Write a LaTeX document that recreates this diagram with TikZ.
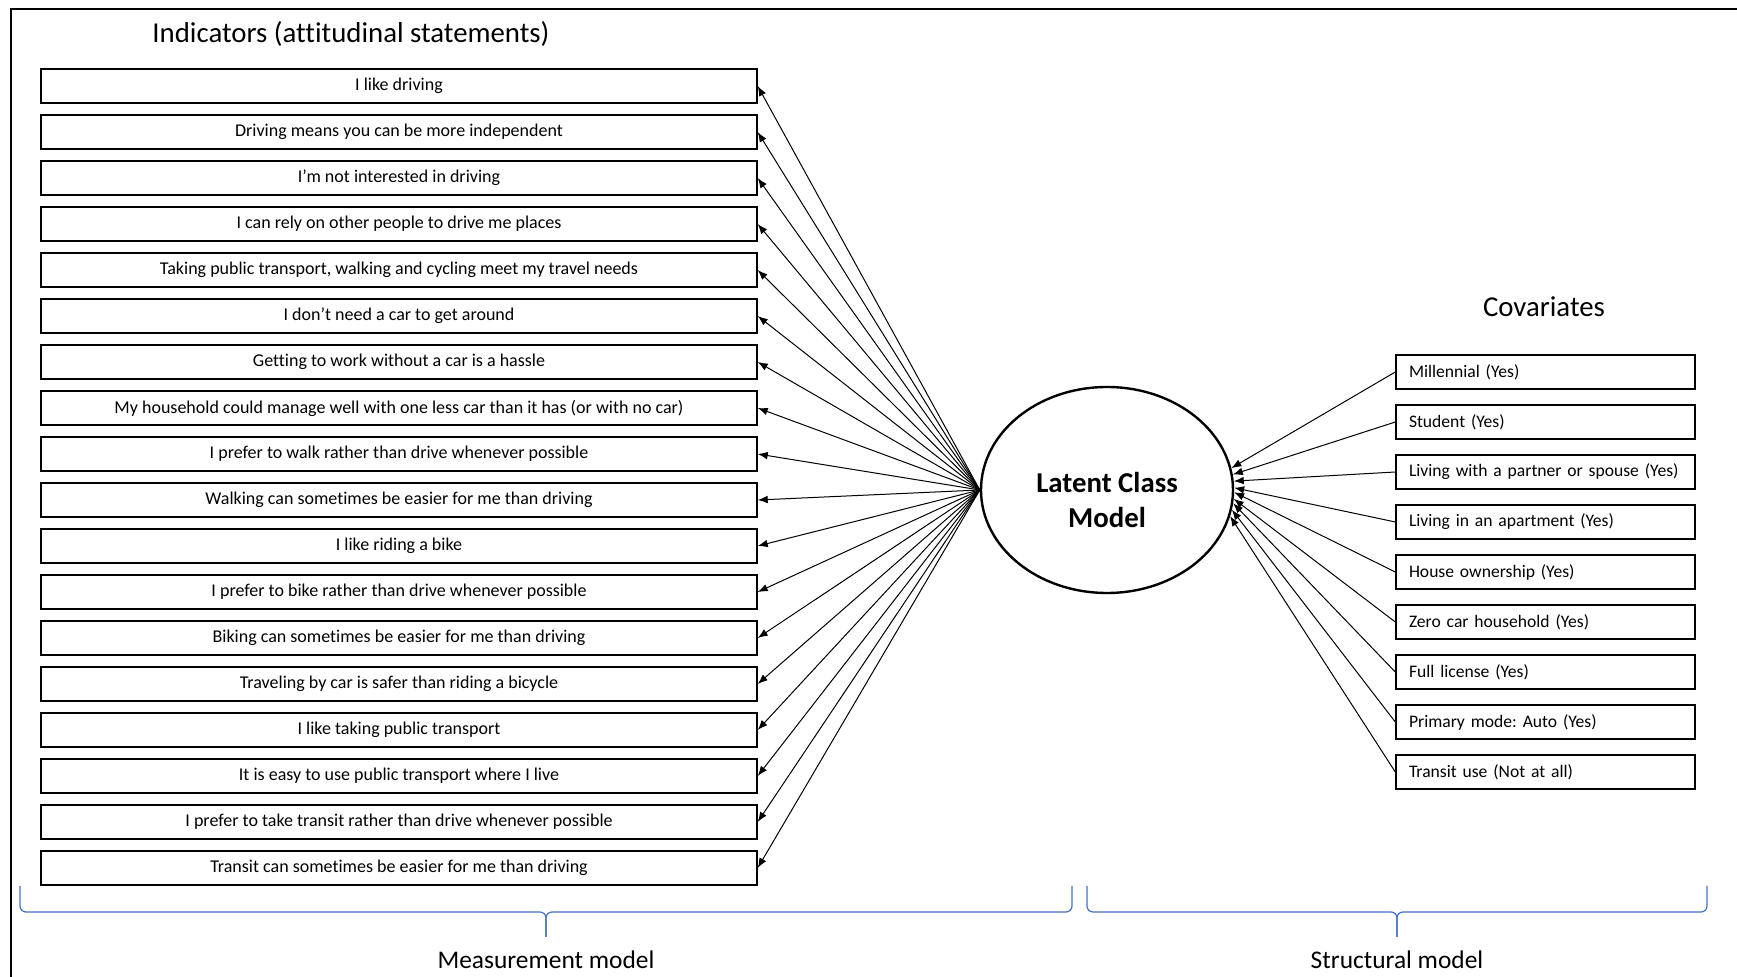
\documentclass[tikz,border=0pt]{standalone}
\usepackage{fontspec}
\setmainfont{Carlito}[Ligatures=NoCommon]
\usetikzlibrary{arrows.meta,shapes.geometric}
\definecolor{braceblue}{RGB}{68,114,196}
\frenchspacing

\begin{document}
\begin{tikzpicture}
  [x=0.5pt,y=-0.5pt,
   stmt/.style={draw,line width=0.7pt,minimum width=358pt,minimum height=17pt,inner sep=0pt,font=\fontsize{9}{10}\selectfont},
   covar/.style={draw,line width=0.7pt,minimum width=149.5pt,minimum height=17pt,inner sep=0pt,text width=136.5pt,align=left,font=\fontsize{8.8}{10}\selectfont},
   hdr/.style={font=\fontsize{12.7}{15}\selectfont},
   bighdr/.style={font=\fontsize{14.4}{17}\selectfont},
   arr/.style={line width=0.5pt,-{Latex[length=5pt,width=3.8pt]}},
   brc/.style={draw=braceblue,line width=0.6pt,rounded corners=3pt}]
  \useasboundingbox (0,0) rectangle (1737,977);
  \draw[line width=1pt] (11,977) -- (11,9) -- (1737,9);

  \node[bighdr] (indhdr) at (351,34) {Indicators (attitudinal statements)};
  \node[bighdr] (covhdr) at (1544,307) {Covariates};

  \node[ellipse,draw,line width=1.2pt,minimum width=126pt,minimum height=103pt,
        label={[align=center,yshift=-5pt,font=\bfseries\fontsize{14.4}{17.5}\selectfont]center:Latent Class\\Model}] (lcm) at (1107,490) {};

  % indicators
  \foreach \i/\t in {1/{I like driving},
                     2/{Driving means you can be more independent},
                     3/{I'm not interested in driving},
                     4/{I can rely on other people to drive me places},
                     5/{Taking public transport, walking and cycling meet my travel needs},
                     6/{I don't need a car to get around},
                     7/{Getting to work without a car is a hassle},
                     8/{My household could manage well with one less car than it has (or with no car)},
                     9/{I prefer to walk rather than drive whenever possible},
                     10/{Walking can sometimes be easier for me than driving},
                     11/{I like riding a bike},
                     12/{I prefer to bike rather than drive whenever possible},
                     13/{Biking can sometimes be easier for me than driving},
                     14/{Traveling by car is safer than riding a bicycle},
                     15/{I like taking public transport},
                     16/{It is easy to use public transport where I live},
                     17/{I prefer to take transit rather than drive whenever possible},
                     18/{Transit can sometimes be easier for me than driving}}
    \node[stmt] (i\i) at (399,{86+46*(\i-1)}) {\t};

  % covariates
  \foreach \i/\t in {1/{Millennial (Yes)},
                     2/{Student (Yes)},
                     3/{Living with a partner or spouse (Yes)},
                     4/{Living in an apartment (Yes)},
                     5/{House ownership (Yes)},
                     6/{Zero car household (Yes)},
                     7/{Full license (Yes)},
                     8/{Primary mode: Auto (Yes)},
                     9/{Transit use (Not at all)}}
    \node[covar] (c\i) at (1545.5,{372+50*(\i-1)}) {\t};

  \foreach \i in {1,...,18}
    \draw[arr] (lcm.west) -- (i\i.east);
  \foreach \i/\a in {1/10,2/7,3/4,4/1,5/-1.5,6/-4,7/-6.5,8/-9,9/-12}
    \draw[arr] (c\i.west) -- (lcm.\a);

  % braces
  \draw[brc] (20,886) -- (20,912) -- (546,912) -- (546,937);
  \draw[brc] (1072,886) -- (1072,912) -- (546,912) -- (546,937);
  \draw[brc] (1087,886) -- (1087,912) -- (1397,912) -- (1397,937);
  \draw[brc] (1707,886) -- (1707,912) -- (1397,912) -- (1397,937);

  \node[hdr] (meas) at (546,960) {Measurement model};
  \node[hdr] (struct) at (1397,960) {Structural model};
\end{tikzpicture}
\end{document}
